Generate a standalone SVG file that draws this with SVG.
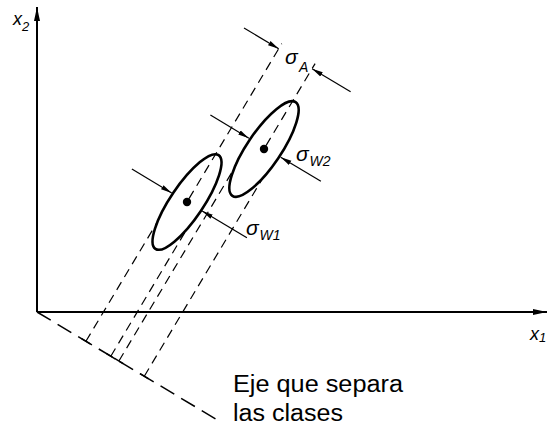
<svg xmlns="http://www.w3.org/2000/svg" width="550" height="428" viewBox="0 0 550 428">
<style>
.axis{stroke:#000;stroke-width:2;fill:none}
.proj{stroke:#000;stroke-width:1.2;fill:none;stroke-dasharray:9 6}
.sep{stroke:#000;stroke-width:1.5;fill:none;stroke-dasharray:16 8}
.foot{stroke:#000;stroke-width:1.5;fill:none}
.dim{stroke:#000;stroke-width:1.2;fill:none;marker-end:url(#ah)}
.ell{stroke:#000;stroke-width:2.6;fill:none}
.sym{font-family:"Liberation Sans","DejaVu Sans",sans-serif;font-style:italic;fill:#000}
.lbl{font-family:"Liberation Sans",Arial,sans-serif;font-size:23px;fill:#000}
</style>
<defs>
<marker id="ah" markerUnits="userSpaceOnUse" markerWidth="11" markerHeight="6" refX="11" refY="3" orient="auto"><path d="M0,0.6 L11,3 L0,5.4 z" fill="#000"/></marker>
<marker id="axh" markerUnits="userSpaceOnUse" markerWidth="14" markerHeight="7" refX="14" refY="3.5" orient="auto"><path d="M0,0.5 L14,3.5 L0,6.5 z" fill="#000"/></marker>
</defs>
<rect width="550" height="428" fill="#fff"/>
<g id="axes">
<line class="axis" x1="37" y1="312" x2="37" y2="7" marker-end="url(#axh)"/>
<line class="axis" x1="37" y1="312" x2="547" y2="312" stroke-width="1.8" marker-end="url(#axh)"/>
<text class="sym" x="13" y="25" font-size="18">x</text><text class="sym" x="22" y="30.5" font-size="13">2</text>
<text class="sym" x="530" y="340" font-size="18">x</text><text class="sym" x="539" y="342" font-size="13">1</text>
</g>
<g id="connectors">
<line class="sep" x1="37" y1="312" x2="218.9" y2="420.9"/>
<line class="foot" x1="81.6" y1="338.7" x2="90.2" y2="343.9"/>
<line class="foot" x1="106.5" y1="353.6" x2="115.1" y2="358.8"/>
<line class="foot" x1="114.6" y1="358.4" x2="123.2" y2="363.6"/>
<line class="foot" x1="140" y1="373.6" x2="148.6" y2="378.8"/>
<line class="proj" x1="85.9" y1="341.3" x2="156.8" y2="222.9"/>
<line class="proj" x1="110.8" y1="356.2" x2="186.3" y2="230"/>
<line class="proj" x1="118.9" y1="361" x2="233.7" y2="169.3"/>
<line class="proj" x1="144.3" y1="376.2" x2="263.6" y2="176.7"/>
<line class="proj" x1="189" y1="198.6" x2="281.8" y2="43.6"/>
<line class="proj" x1="266" y1="145.6" x2="315.1" y2="63.6"/>
<line class="dim" x1="244" y1="28" x2="278.7" y2="48.7"/>
<line class="dim" x1="350.6" y1="91.8" x2="312.1" y2="68.7"/>
<line class="dim" x1="131.9" y1="169" x2="171.7" y2="192.9"/>
<line class="dim" x1="246.9" y1="237.8" x2="202.2" y2="211.1"/>
<line class="dim" x1="210.4" y1="115.1" x2="248.9" y2="138.2"/>
<line class="dim" x1="320.9" y1="181.2" x2="280.7" y2="157.2"/>
</g>
<g id="class1">
<ellipse class="ell" cx="187" cy="202" rx="56.5" ry="16.5" transform="rotate(-56 187 202)"/>
<circle cx="187" cy="202" r="4.2" fill="#000"/>
</g>
<g id="class2">
<ellipse class="ell" cx="264" cy="149" rx="56.5" ry="17" transform="rotate(-56 264 149)"/>
<circle cx="264" cy="149" r="4.2" fill="#000"/>
</g>
<g id="sigmaA"><text class="sym" x="285" y="63.5" font-size="21">σ</text><text class="sym" x="299" y="72" font-size="14">A</text></g>
<g id="sigmaW2"><text class="sym" x="296" y="161" font-size="21">σ</text><text class="sym" x="309.5" y="165.5" font-size="14">W2</text></g>
<g id="sigmaW1"><text class="sym" x="246" y="235" font-size="21">σ</text><text class="sym" x="259.5" y="240" font-size="14">W1</text></g>
<g id="axisLabel">
<text class="lbl" x="233" y="392" textLength="170" lengthAdjust="spacingAndGlyphs">Eje que separa</text>
<text class="lbl" x="233" y="421" textLength="110" lengthAdjust="spacingAndGlyphs">las clases</text>
</g>
</svg>
